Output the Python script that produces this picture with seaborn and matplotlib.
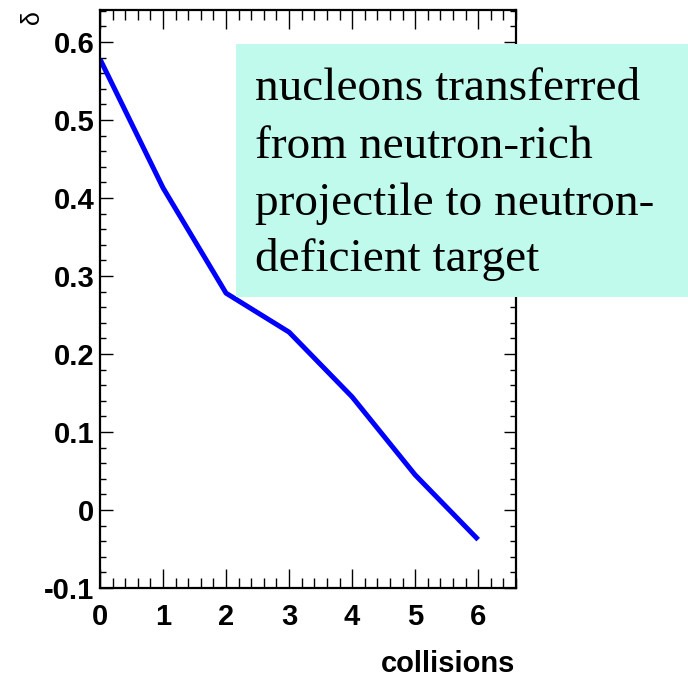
import matplotlib
matplotlib.use("Agg")
import matplotlib.pyplot as plt
from matplotlib.patches import Rectangle
from matplotlib.ticker import MultipleLocator, FixedLocator, FixedFormatter
import seaborn as sns
import pandas as pd

# Asymmetry delta of the projectile-like system vs. number of collisions
collisions = [0, 1, 2, 3, 4, 5, 6]
delta = [0.578, 0.413, 0.278, 0.228, 0.145, 0.045, -0.038]

x_ticks = [0, 1, 2, 3, 4, 5, 6]
x_tick_labels = ["0", "1", "2", "3", "4", "5", "6"]
y_ticks = [-0.1, 0.0, 0.1, 0.2, 0.3, 0.4, 0.5, 0.6]
y_tick_labels = ["-0.1", "0", "0.1", "0.2", "0.3", "0.4", "0.5", "0.6"]

note_lines = ["nucleons transferred", "from neutron-rich",
              "projectile to neutron-", "deficient target"]

sns.set_style("white")
plt.rcParams["font.family"] = ["Liberation Sans", "DejaVu Sans"]
plt.rcParams["text.color"] = "black"
plt.rcParams["xtick.color"] = "black"
plt.rcParams["ytick.color"] = "black"

W, H = 688, 678
fig = plt.figure(figsize=(W / 100, H / 100), dpi=100)
ax = fig.add_axes([100 / W, 1 - 588 / H, (516 - 100) / W, (588 - 10) / H])

df = pd.DataFrame({"collisions": collisions, "delta": delta})
sns.lineplot(data=df, x="collisions", y="delta", ax=ax, color="#0000ff",
             linewidth=3.6, solid_joinstyle="round", solid_capstyle="butt")

ax.set_xlim(0, 6.6)
ax.set_ylim(-0.1, 0.641)

for s in ax.spines.values():
    s.set_visible(True)
    s.set_linewidth(1.6)
    s.set_color("black")

ax.xaxis.set_major_locator(FixedLocator(x_ticks))
ax.xaxis.set_major_formatter(FixedFormatter(x_tick_labels))
ax.xaxis.set_minor_locator(MultipleLocator(0.2))
ax.yaxis.set_major_locator(FixedLocator(y_ticks))
ax.yaxis.set_major_formatter(FixedFormatter(y_tick_labels))
ax.yaxis.set_minor_locator(MultipleLocator(0.02))

ax.tick_params(axis="x", which="major", direction="in", length=13.5, width=1.0,
               top=True, bottom=True, pad=11, labelsize=21,
               colors="black")
ax.tick_params(axis="x", which="minor", direction="in", length=7, width=1.0,
               top=True, bottom=True, colors="black")
ax.tick_params(axis="y", which="major", direction="in", length=9, width=1.0,
               left=True, right=True, pad=4, labelsize=21, colors="black")
ax.tick_params(axis="y", which="minor", direction="in", length=4.5, width=1.0,
               left=True, right=True, colors="black")
for lbl in ax.get_xticklabels() + ax.get_yticklabels():
    lbl.set_fontweight("bold")
    lbl.set_color("black")

ax.set_xlabel("")
ax.set_ylabel("")

# axis titles in the corner positions
fig.text(515 / W, 1 - 672 / H, "collisions", ha="right", va="baseline",
         fontsize=21, fontweight="bold", color="black")
fig.text(32 / W, 1 - 17 / H, "δ", rotation=90, ha="center", va="center",
         fontsize=18, color="black")

# annotation box
fig.add_artist(Rectangle((236 / W, 1 - 297 / H), (W - 236) / W, (297 - 44) / H,
                         transform=fig.transFigure, facecolor="#c0faec",
                         edgecolor="none", zorder=3))
baselines = [100, 158, 215, 271]
for line, yb in zip(note_lines, baselines):
    fig.text(255 / W, 1 - yb / H, line, ha="left", va="baseline",
             fontsize=34, family="Liberation Serif", color="black", zorder=4)

fig.savefig("out.png", dpi=100)
